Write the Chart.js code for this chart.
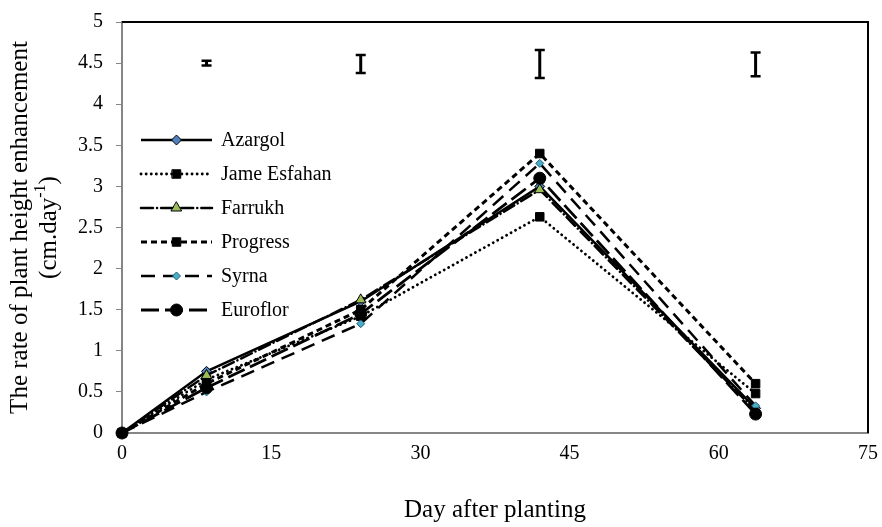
<!DOCTYPE html>
<html>
<head>
<meta charset="utf-8">
<script src="https://cdn.jsdelivr.net/npm/chart.js@4.4.1/dist/chart.umd.min.js"></script>
<style>
  html, body { margin: 0; padding: 0; background: #fff; }
  #wrap { width: 882px; height: 527px; position: relative; }
</style>
</head>
<body>
<div id="wrap"><canvas id="chart"></canvas></div>
<script>
const days = [0, 8.5, 24, 42, 63.7];
const seriesNames = ["Azargol", "Jame Esfahan", "Farrukh", "Progress", "Syrna", "Euroflor"];
const azargol = [0, 0.75, 1.6, 3.0, 0.3];
const jameEsfahan = [0, 0.65, 1.42, 2.63, 0.48];
const farrukh = [0, 0.7, 1.62, 2.96, 0.27];
const progress = [0, 0.6, 1.5, 3.4, 0.6];
const syrna = [0, 0.5, 1.33, 3.28, 0.33];
const euroflor = [0, 0.55, 1.45, 3.1, 0.23];

const errDays = [8.5, 24, 42, 63.7];
const errLow = [4.47, 4.38, 4.32, 4.34];
const errHigh = [4.53, 4.6, 4.66, 4.63];

const xTicks = [0, 15, 30, 45, 60, 75];
const xTitle = "Day after planting";
const yTitle = "The rate of plant height enhancement";
const yUnit = "(cm.day";
const yUnitSup = "-1";

const SERIF = "'Liberation Serif', 'Times New Roman', serif";
const FS = 20;   // ticks and legend
const TS = 25;   // axis titles

const pairs = (vals) => vals.map((v, i) => ({ x: days[i], y: v }));

const styles = [
  { dash: [], cap: "butt", width: 2.5, point: "rectRot", r: 5, fill: "#4f81bd", stroke: "#000" },
  { dash: [0.1, 5], cap: "round", width: 2.8, point: "rect", r: 6, fill: "#000", stroke: "#000" },
  { dash: [12, 4, 0.1, 4], cap: "round", width: 2.5, point: "triangle", r: 6, fill: "#9bbb59", stroke: "#000" },
  { dash: [6, 4], cap: "butt", width: 3, point: "rect", r: 6, fill: "#000", stroke: "#000" },
  { dash: [14, 8], cap: "butt", width: 2.5, point: "rectRot", r: 4, fill: "#4bacc6", stroke: "#1f5f7a" },
  { dash: [18, 6], cap: "butt", width: 2.8, point: "circle", r: 6, fill: "#000", stroke: "#000" }
];

const allValues = [azargol, jameEsfahan, farrukh, progress, syrna, euroflor];

const datasets = seriesNames.map((name, i) => ({
  label: name,
  data: pairs(allValues[i]),
  borderColor: "#000",
  borderWidth: styles[i].width,
  borderDash: styles[i].dash,
  borderCapStyle: styles[i].cap,
  pointStyle: styles[i].point,
  pointRadius: styles[i].r,
  pointBackgroundColor: styles[i].fill,
  pointBorderColor: styles[i].stroke,
  pointBorderWidth: 1,
  tension: 0,
  fill: false,
  clip: false,
  order: seriesNames.length - i
}));

// error bars near the top of the plot
const errorBars = {
  id: "errorBars",
  afterDatasetsDraw(chart) {
    const { ctx, scales: { x, y } } = chart;
    ctx.save();
    ctx.strokeStyle = "#000";
    ctx.lineCap = "butt";
    errDays.forEach((d, i) => {
      const px = x.getPixelForValue(d);
      const top = y.getPixelForValue(errHigh[i]);
      const bot = y.getPixelForValue(errLow[i]);
      ctx.lineWidth = 3;
      ctx.beginPath();
      ctx.moveTo(px, top);
      ctx.lineTo(px, bot);
      ctx.stroke();
      ctx.lineWidth = 2.5;
      ctx.beginPath();
      ctx.moveTo(px - 5, top);
      ctx.lineTo(px + 5, top);
      ctx.moveTo(px - 5, bot);
      ctx.lineTo(px + 5, bot);
      ctx.stroke();
    });
    ctx.restore();
  }
};

// legend drawn inside the plot area, plus frame and y title
const extras = {
  id: "extras",
  afterDraw(chart) {
    const { ctx, chartArea: a } = chart;
    ctx.save();
    // top/right frame
    ctx.strokeStyle = "#000";
    ctx.lineWidth = 2;
    ctx.beginPath();
    ctx.moveTo(a.left, a.top);
    ctx.lineTo(a.right, a.top);
    ctx.lineTo(a.right, a.bottom);
    ctx.stroke();

    // legend
    const x0 = 141, x1 = 212, yStart = 140, step = 34;
    chart.data.datasets.forEach((ds, i) => {
      const yy = yStart + i * step;
      ctx.setLineDash(ds.borderDash);
      ctx.lineCap = ds.borderCapStyle;
      ctx.lineWidth = ds.borderWidth;
      ctx.strokeStyle = ds.borderColor;
      ctx.beginPath();
      ctx.moveTo(x0, yy);
      ctx.lineTo(x1, yy);
      ctx.stroke();
      ctx.setLineDash([]);
      ctx.fillStyle = ds.pointBackgroundColor;
      ctx.strokeStyle = ds.pointBorderColor;
      ctx.lineWidth = ds.pointBorderWidth;
      Chart.helpers.drawPoint(ctx, { pointStyle: ds.pointStyle, radius: ds.pointRadius, rotation: 0, borderWidth: ds.pointBorderWidth }, (x0 + x1) / 2, yy);
      ctx.fillStyle = "#000";
      ctx.font = FS + "px " + SERIF;
      ctx.textAlign = "left";
      ctx.textBaseline = "middle";
      ctx.fillText(ds.label, 221, yy + 1);
    });

    // y title, two lines, rotated
    const cy = (a.top + a.bottom) / 2;
    ctx.translate(0, cy);
    ctx.rotate(-Math.PI / 2);
    ctx.fillStyle = "#000";
    ctx.textAlign = "center";
    ctx.textBaseline = "middle";
    ctx.font = TS + "px " + SERIF;
    ctx.fillText(yTitle, 0, 20);
    const w1 = ctx.measureText(yUnit).width;
    ctx.font = "16px " + SERIF;
    const w2 = ctx.measureText(yUnitSup).width;
    ctx.font = TS + "px " + SERIF;
    const w3 = ctx.measureText(")").width;
    const start = -(w1 + w2 + w3) / 2;
    ctx.textAlign = "left";
    ctx.fillText(yUnit, start, 49);
    ctx.font = "16px " + SERIF;
    ctx.fillText(yUnitSup, start + w1, 41);
    ctx.font = TS + "px " + SERIF;
    ctx.fillText(")", start + w1 + w2, 49);
    ctx.restore();
  }
};

new Chart(document.getElementById("chart"), {
  type: "line",
  data: { datasets },
  options: {
    responsive: true,
    maintainAspectRatio: false,
    animation: false,
    events: [],
    layout: { padding: { top: 22, right: 14, left: 0, bottom: 0 } },
    plugins: {
      legend: { display: false },
      tooltip: { enabled: false }
    },
    scales: {
      x: {
        type: "linear",
        min: 0,
        max: 75,
        afterBuildTicks: (s) => { s.ticks = xTicks.map((v) => ({ value: v })); },
        grid: { display: false, drawOnChartArea: false, drawTicks: true, tickLength: 6, color: "#868686" },
        border: { color: "#868686", width: 2 },
        ticks: { color: "#000", font: { family: SERIF, size: FS }, padding: 3, maxRotation: 0 },
        title: { display: true, text: xTitle, color: "#000", font: { family: SERIF, size: TS }, padding: { top: 26, bottom: 2 } },
        afterFit: (s) => { s.height = 94; s.paddingLeft = 0; s.paddingRight = 0; }
      },
      y: {
        min: 0,
        max: 5,
        ticks: {
          stepSize: 0.5,
          color: "#000",
          font: { family: SERIF, size: FS },
          padding: 13,
          callback: (v) => String(Number(v.toFixed(1)))
        },
        grid: { display: true, drawOnChartArea: false, drawTicks: true, tickLength: 6, color: "#868686" },
        border: { color: "#868686", width: 2 },
        afterFit: (s) => { s.width = 122; s.paddingTop = 0; s.paddingBottom = 0; }
      }
    }
  },
  plugins: [errorBars, extras]
});
</script>
</body>
</html>
